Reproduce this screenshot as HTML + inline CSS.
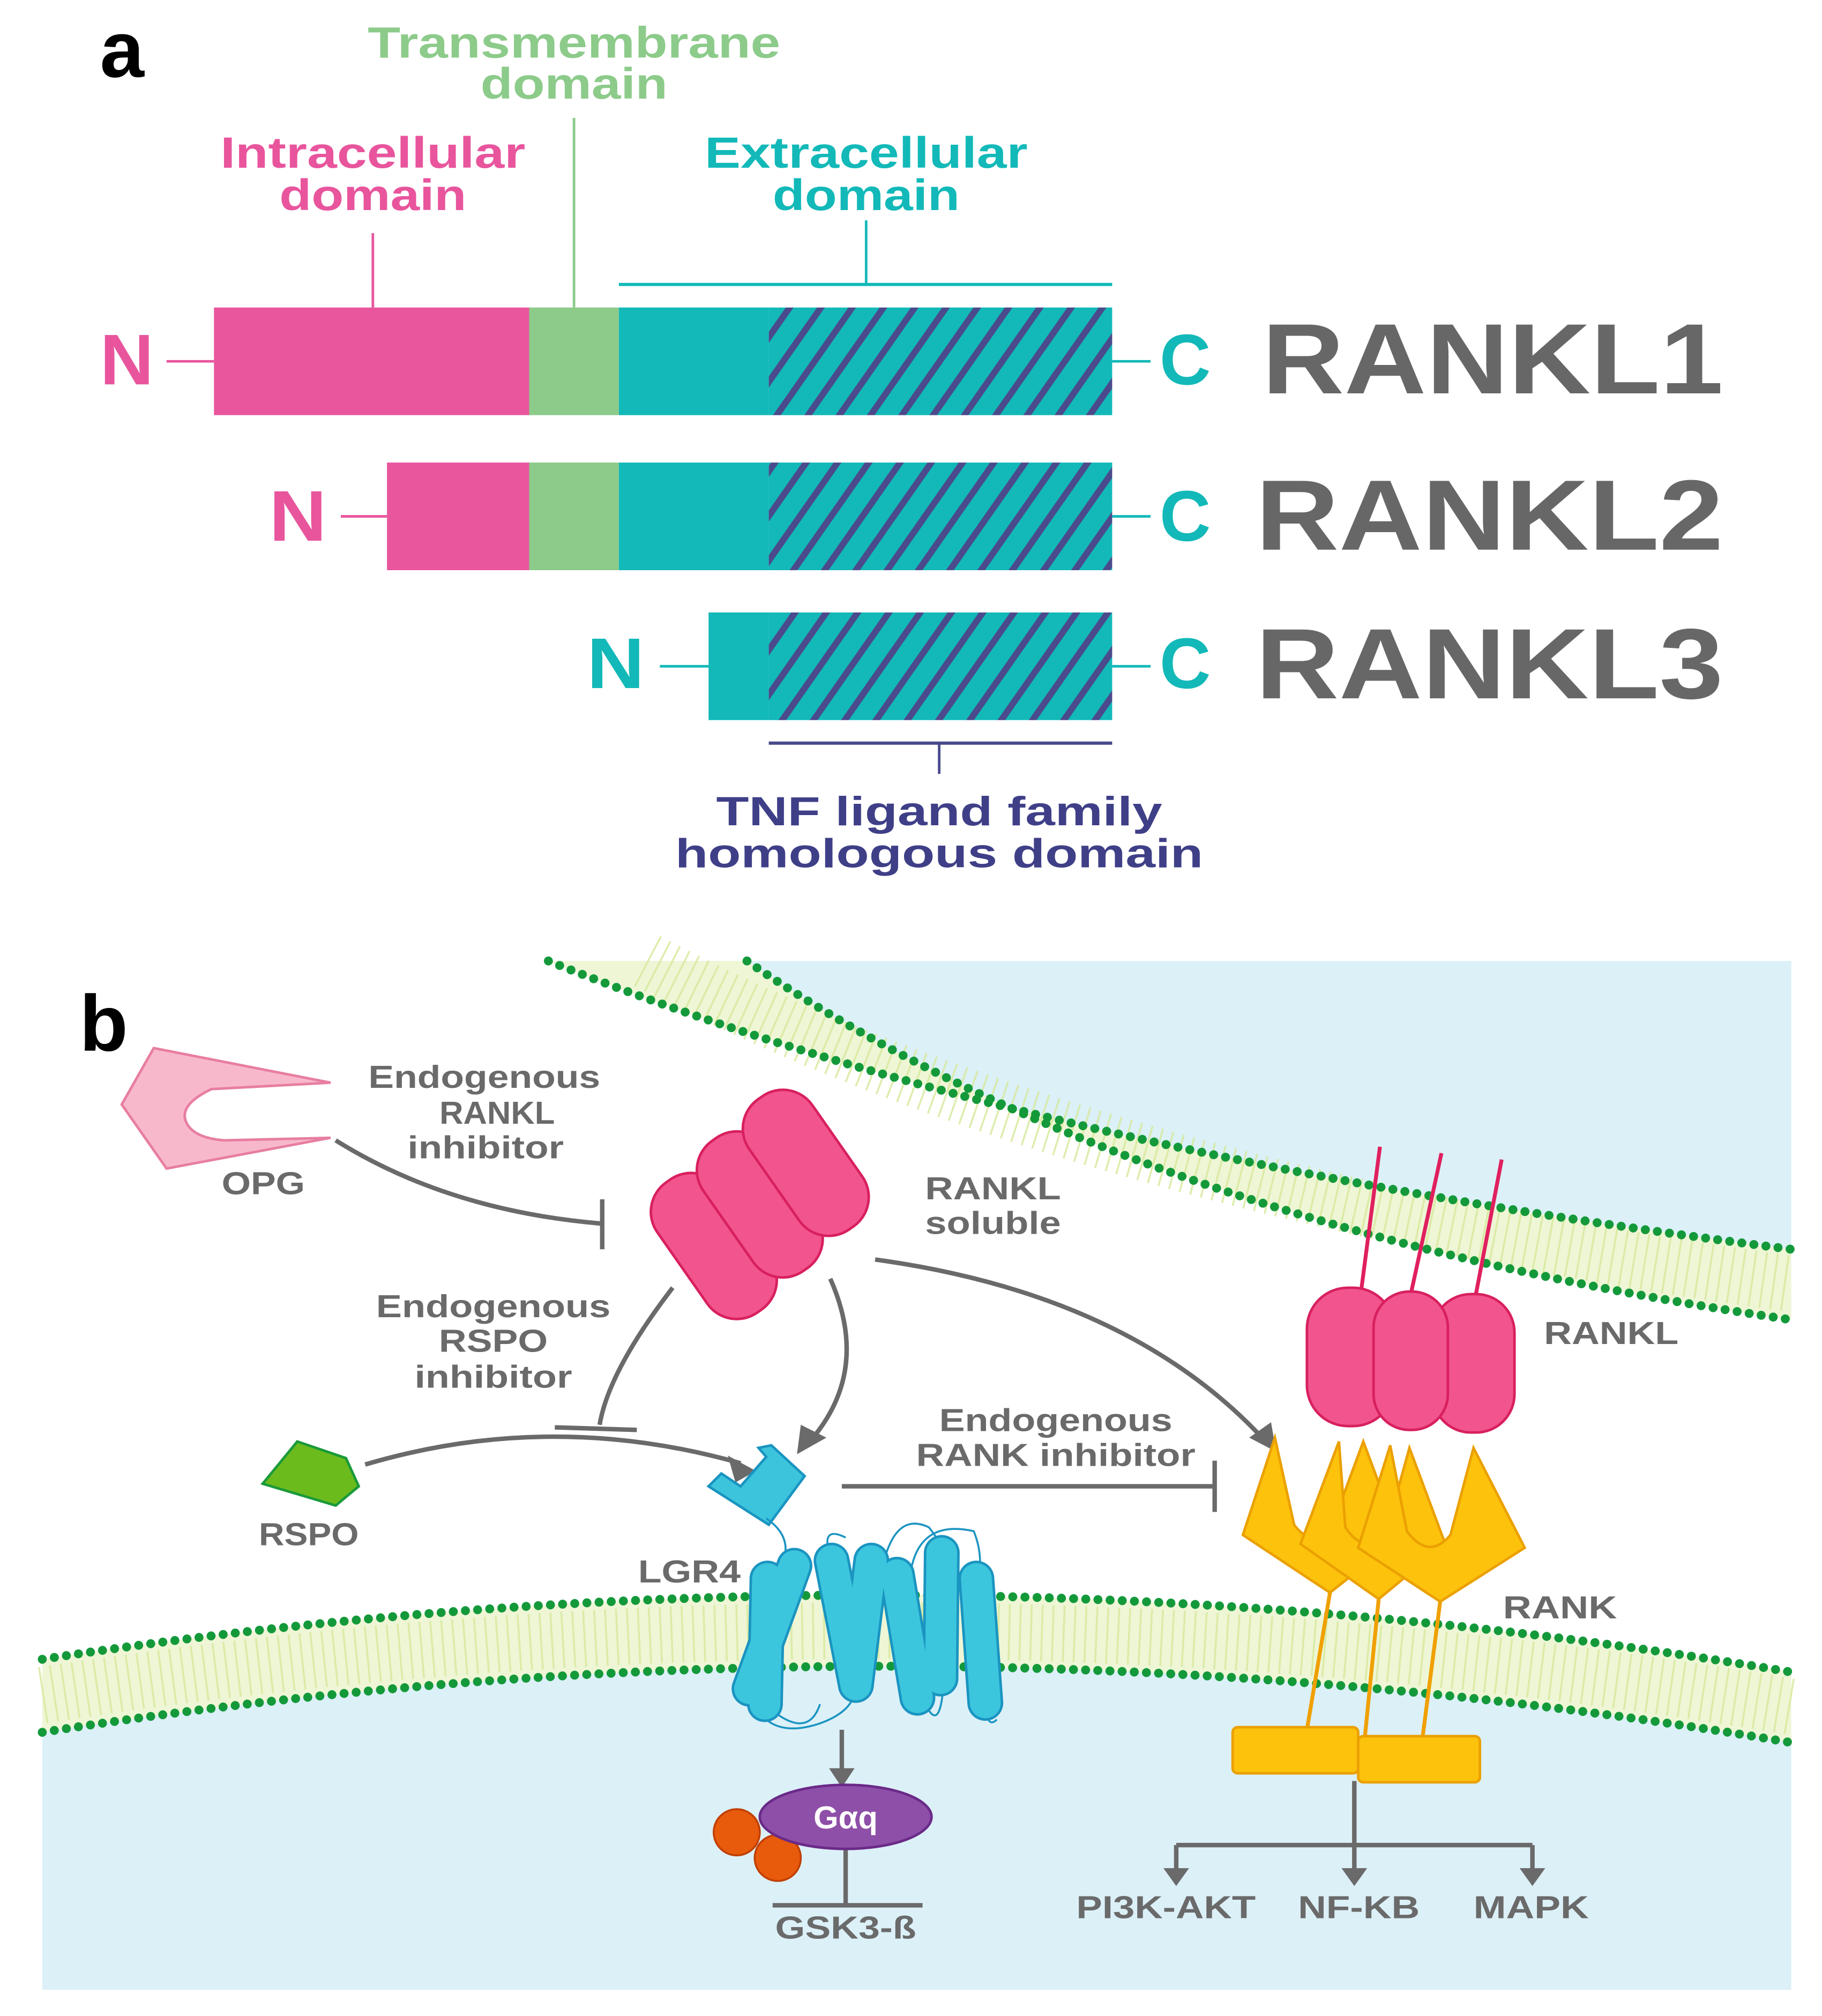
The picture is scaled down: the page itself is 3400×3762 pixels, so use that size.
<!DOCTYPE html>
<html><head><meta charset="utf-8"><style>
html,body{margin:0;padding:0;background:#fff;}
svg{display:block;}
text{font-family:"Liberation Sans",Arial,sans-serif;font-weight:bold;}
</style></head><body>
<svg width="3400" height="3762" viewBox="0 0 1422 1573.4" preserveAspectRatio="none" xmlns="http://www.w3.org/2000/svg">
<defs>
<pattern id="hatch" width="20" height="20" patternUnits="userSpaceOnUse" patternTransform="rotate(35)">
<rect width="20" height="20" fill="#12b9b8"/>
<rect x="0" y="0" width="5" height="20" fill="#4a4a8c"/>
</pattern>
</defs>
<rect width="1422" height="1574" fill="#fff"/>
<!-- Panel a -->
<text x="78" y="60" font-size="62" fill="#000">a</text>
<g fill="#8ccb8a" font-size="34" text-anchor="middle">
<text x="448" y="45" textLength="322" lengthAdjust="spacingAndGlyphs">Transmembrane</text>
<text x="448" y="77" textLength="146" lengthAdjust="spacingAndGlyphs">domain</text>
</g>
<g fill="#e8559d" font-size="34" text-anchor="middle">
<text x="291" y="131" textLength="238" lengthAdjust="spacingAndGlyphs">Intracellular</text>
<text x="291" y="164" textLength="146" lengthAdjust="spacingAndGlyphs">domain</text>
</g>
<g fill="#12b9b8" font-size="34" text-anchor="middle">
<text x="676" y="131" textLength="252" lengthAdjust="spacingAndGlyphs">Extracellular</text>
<text x="676" y="164" textLength="146" lengthAdjust="spacingAndGlyphs">domain</text>
</g>
<line x1="291" y1="182" x2="291" y2="240" stroke="#e8559d" stroke-width="2"/>
<line x1="448" y1="92" x2="448" y2="240" stroke="#8ccb8a" stroke-width="2"/>
<line x1="676" y1="172" x2="676" y2="222" stroke="#12b9b8" stroke-width="2"/>
<line x1="483" y1="222" x2="868" y2="222" stroke="#12b9b8" stroke-width="2.5"/>
<!-- RANKL1 -->
<rect x="167" y="240" width="246" height="84" fill="#e9569e"/>
<rect x="413" y="240" width="70" height="84" fill="#8ccb8a"/>
<rect x="483" y="240" width="117" height="84" fill="#12b9b8"/>
<rect x="600" y="240" width="268" height="84" fill="url(#hatch)"/>
<line x1="130" y1="282" x2="167" y2="282" stroke="#e8559d" stroke-width="2"/>
<line x1="868" y1="282" x2="898" y2="282" stroke="#12b9b8" stroke-width="2"/>
<text x="78" y="300" font-size="56" fill="#e8559d" textLength="42" lengthAdjust="spacingAndGlyphs">N</text>
<text x="905" y="300" font-size="56" fill="#12b9b8" textLength="40" lengthAdjust="spacingAndGlyphs">C</text>
<text x="985" y="307" font-size="78" fill="#676767" textLength="360" lengthAdjust="spacingAndGlyphs">RANKL1</text>
<!-- RANKL2 -->
<rect x="302" y="361" width="111" height="84" fill="#e9569e"/>
<rect x="413" y="361" width="70" height="84" fill="#8ccb8a"/>
<rect x="483" y="361" width="117" height="84" fill="#12b9b8"/>
<rect x="600" y="361" width="268" height="84" fill="url(#hatch)"/>
<line x1="266" y1="403" x2="302" y2="403" stroke="#e8559d" stroke-width="2"/>
<line x1="868" y1="403" x2="898" y2="403" stroke="#12b9b8" stroke-width="2"/>
<text x="210" y="422" font-size="56" fill="#e8559d" textLength="45" lengthAdjust="spacingAndGlyphs">N</text>
<text x="905" y="422" font-size="56" fill="#12b9b8" textLength="40" lengthAdjust="spacingAndGlyphs">C</text>
<text x="980" y="429" font-size="78" fill="#676767" textLength="365" lengthAdjust="spacingAndGlyphs">RANKL2</text>
<!-- RANKL3 -->
<rect x="553" y="478" width="47" height="84" fill="#12b9b8"/>
<rect x="600" y="478" width="268" height="84" fill="url(#hatch)"/>
<line x1="515" y1="520" x2="553" y2="520" stroke="#12b9b8" stroke-width="2"/>
<line x1="868" y1="520" x2="898" y2="520" stroke="#12b9b8" stroke-width="2"/>
<text x="458" y="537" font-size="56" fill="#12b9b8" textLength="45" lengthAdjust="spacingAndGlyphs">N</text>
<text x="905" y="537" font-size="56" fill="#12b9b8" textLength="40" lengthAdjust="spacingAndGlyphs">C</text>
<text x="980" y="545" font-size="78" fill="#676767" textLength="365" lengthAdjust="spacingAndGlyphs">RANKL3</text>
<line x1="600" y1="580" x2="868" y2="580" stroke="#4a4a8c" stroke-width="2.5"/>
<line x1="733" y1="580" x2="733" y2="604" stroke="#4a4a8c" stroke-width="2"/>
<g fill="#3f3f88" font-size="32" text-anchor="middle">
<text x="733" y="644" textLength="348" lengthAdjust="spacingAndGlyphs">TNF ligand family</text>
<text x="733" y="677" textLength="412" lengthAdjust="spacingAndGlyphs">homologous domain</text>
</g>

<!-- Panel b background -->
<rect x="33" y="750" width="1365" height="803" fill="#dcf0f8"/>
<path d="M33,750 L428,750 Q800,900 1398,975 L1398,1305 Q715,1190 33,1295 Z" fill="#fff"/>
<!-- upper membrane -->
<path d="M428,750 Q800,900 1398,975 L1398,1030 Q880,955 583,750 Z" fill="#eef6d6"/>
<path d="M505,750 Q840,925 1398,1002" fill="none" stroke="#d6e89a" stroke-width="44" stroke-dasharray="1.5 7" opacity="0.8"/>
<path d="M428,750 Q800,900 1398,975" fill="none" stroke="#14993a" stroke-width="7" stroke-linecap="round" stroke-dasharray="0 9.5"/>
<path d="M583,750 Q880,955 1398,1030" fill="none" stroke="#14993a" stroke-width="7" stroke-linecap="round" stroke-dasharray="0 9.5"/>
<!-- lower membrane -->
<path d="M33,1295 Q715,1190 1398,1305 L1398,1360 Q715,1245 33,1352 Z" fill="#eef6d6"/>
<path d="M33,1323 Q715,1218 1398,1332" fill="none" stroke="#d6e89a" stroke-width="44" stroke-dasharray="1.5 7" opacity="0.8"/>
<path d="M33,1295 Q715,1190 1398,1305" fill="none" stroke="#14993a" stroke-width="7" stroke-linecap="round" stroke-dasharray="0 9.5"/>
<path d="M33,1352 Q715,1245 1398,1360" fill="none" stroke="#14993a" stroke-width="7" stroke-linecap="round" stroke-dasharray="0 9.5"/>

<text x="62" y="820" font-size="62" fill="#000">b</text>

<!-- OPG -->
<path d="M95,862 L120,818 L258,845 L165,850 Q140,862 145,875 Q150,888 175,890 L258,888 L130,912 Z" fill="#f8b8cc" stroke="#e77ea0" stroke-width="2"/>
<g fill="#6a6a6a" font-size="25">
<text x="173" y="932" textLength="65" lengthAdjust="spacingAndGlyphs">OPG</text>
<g text-anchor="middle">
<text x="378" y="849" textLength="181" lengthAdjust="spacingAndGlyphs">Endogenous</text>
<text x="388" y="877" textLength="90" lengthAdjust="spacingAndGlyphs">RANKL</text>
<text x="379" y="904" textLength="122" lengthAdjust="spacingAndGlyphs">inhibitor</text>
<text x="385" y="1028" textLength="183" lengthAdjust="spacingAndGlyphs">Endogenous</text>
<text x="385" y="1055" textLength="85" lengthAdjust="spacingAndGlyphs">RSPO</text>
<text x="385" y="1083" textLength="123" lengthAdjust="spacingAndGlyphs">inhibitor</text>
<text x="775" y="936" textLength="106" lengthAdjust="spacingAndGlyphs">RANKL</text>
<text x="775" y="963" textLength="106" lengthAdjust="spacingAndGlyphs">soluble</text>
<text x="824" y="1117" textLength="182" lengthAdjust="spacingAndGlyphs">Endogenous</text>
<text x="824" y="1144" textLength="218" lengthAdjust="spacingAndGlyphs">RANK inhibitor</text>
<text x="660" y="1513" textLength="110" lengthAdjust="spacingAndGlyphs">GSK3-ß</text>
</g>
<text x="202" y="1206" textLength="78" lengthAdjust="spacingAndGlyphs">RSPO</text>
<text x="498" y="1235" textLength="80" lengthAdjust="spacingAndGlyphs">LGR4</text>
<text x="1205" y="1049" textLength="105" lengthAdjust="spacingAndGlyphs">RANKL</text>
<text x="1173" y="1263" textLength="89" lengthAdjust="spacingAndGlyphs">RANK</text>
<text x="840" y="1497" textLength="140" lengthAdjust="spacingAndGlyphs">PI3K-AKT</text>
<text x="1013" y="1497" textLength="95" lengthAdjust="spacingAndGlyphs">NF-KB</text>
<text x="1150" y="1497" textLength="90" lengthAdjust="spacingAndGlyphs">MAPK</text>
</g>

<!-- connectors -->
<g fill="none" stroke="#6a6a6a" stroke-width="3.5">
<path d="M262,890 Q350,945 470,955"/>
<line x1="470" y1="936" x2="470" y2="975"/>
<path d="M525,1005 Q475,1070 468,1112"/>
<line x1="433" y1="1114" x2="497" y2="1116"/>
<path d="M648,998 Q680,1070 632,1125"/>
<path d="M285,1143 Q430,1100 578,1142"/>
<path d="M683,983 Q880,1010 985,1122"/>
<line x1="657" y1="1160" x2="948" y2="1160"/>
<line x1="948" y1="1140" x2="948" y2="1180"/>
<line x1="657" y1="1350" x2="657" y2="1384"/>
<line x1="660" y1="1443" x2="660" y2="1487"/>
<line x1="603" y1="1487" x2="720" y2="1487"/>
<line x1="1057" y1="1390" x2="1057" y2="1440"/>
<line x1="918" y1="1440" x2="1196" y2="1440"/>
<line x1="918" y1="1440" x2="918" y2="1462"/>
<line x1="1057" y1="1440" x2="1057" y2="1462"/>
<line x1="1196" y1="1440" x2="1196" y2="1462"/>
</g>
<g fill="#6a6a6a">
<polygon points="622,1135 625,1112 645,1122"/>
<polygon points="590,1148 568,1136 574,1157"/>
<polygon points="996,1133 975,1122 992,1110"/>
<polygon points="657,1395 647,1380 667,1380"/>
<polygon points="918,1472 908,1458 928,1458"/>
<polygon points="1057,1472 1047,1458 1067,1458"/>
<polygon points="1196,1472 1186,1458 1206,1458"/>
</g>

<!-- RANKL soluble -->
<g transform="translate(593,940) rotate(-35)" fill="#f2548e" stroke="#d8205e" stroke-width="2">
<rect x="-30" y="-62" width="60" height="124" rx="28" transform="translate(-48,6)"/>
<rect x="-30" y="-62" width="60" height="124" rx="28" transform="translate(0,0)"/>
<rect x="-30" y="-62" width="60" height="124" rx="28" transform="translate(48,-6)"/>
</g>

<!-- RSPO -->
<path d="M205,1158 L232,1125 L270,1138 L280,1160 L262,1175 Z" fill="#6cbb1c" stroke="#1a9a3a" stroke-width="2"/>
<!-- LGR4 ectodomain -->
<path d="M553,1160 L563,1150 L578,1160 L598,1137 L592,1130 L602,1128 L628,1152 L600,1190 Z" fill="#3cc4dc" stroke="#1a94c0" stroke-width="2"/>
<path d="M598,1185 Q620,1200 610,1222" fill="none" stroke="#1a94c0" stroke-width="1.5"/>
<!-- LGR4 loops -->
<g fill="none" stroke="#1a94c0" stroke-width="1.5">
<path d="M648,1215 Q640,1190 660,1200"/>
<path d="M690,1218 Q700,1180 725,1192 Q735,1205 737,1212"/>
<path d="M710,1232 Q715,1185 760,1195 Q768,1215 763,1235"/>
<path d="M585,1318 Q595,1360 640,1345 Q668,1335 668,1315"/>
<path d="M597,1330 Q630,1360 640,1330"/>
<path d="M725,1335 Q735,1350 737,1305"/>
<path d="M769,1329 Q770,1350 778,1342"/>
</g>
<!-- LGR4 cylinders -->
<g stroke-linecap="round">
<g stroke="#1a94c0" stroke-width="28">
<line x1="620" y1="1222" x2="585" y2="1318"/>
<line x1="649" y1="1218" x2="668" y2="1315"/>
<line x1="680" y1="1218" x2="668" y2="1315"/>
<line x1="599" y1="1232" x2="597" y2="1330"/>
<line x1="700" y1="1229" x2="716" y2="1325"/>
<line x1="735" y1="1212" x2="734" y2="1310"/>
<line x1="762" y1="1232" x2="769" y2="1329"/>
</g>
<g stroke="#3cc6de" stroke-width="24">
<line x1="620" y1="1222" x2="585" y2="1318"/>
<line x1="649" y1="1218" x2="668" y2="1315"/>
<line x1="680" y1="1218" x2="668" y2="1315"/>
<line x1="599" y1="1232" x2="597" y2="1330"/>
<line x1="700" y1="1229" x2="716" y2="1325"/>
<line x1="735" y1="1212" x2="734" y2="1310"/>
<line x1="762" y1="1232" x2="769" y2="1329"/>
</g>
</g>

<!-- Gaq -->
<circle cx="575" cy="1430" r="18" fill="#e85a0c" stroke="#c04000" stroke-width="1.5"/>
<circle cx="607" cy="1450" r="18" fill="#e85a0c" stroke="#c04000" stroke-width="1.5"/>
<ellipse cx="660" cy="1418" rx="67" ry="25" fill="#8e4fa8" stroke="#6a2a88" stroke-width="2"/>
<text x="660" y="1427" font-size="25" fill="#fff" text-anchor="middle">Gαq</text>

<!-- membrane RANKL -->
<g stroke="#e0205e" stroke-width="3">
<line x1="1077" y1="895" x2="1062" y2="1010"/>
<line x1="1125" y1="900" x2="1100" y2="1015"/>
<line x1="1172" y1="905" x2="1150" y2="1020"/>
</g>
<g fill="#f2548e" stroke="#d8205e" stroke-width="2">
<rect x="1020" y="1005" width="68" height="108" rx="32"/>
<rect x="1118" y="1010" width="64" height="108" rx="30"/>
<rect x="1072" y="1008" width="58" height="108" rx="28"/>
</g>

<!-- RANK -->
<g stroke="#f0a000" stroke-width="3">
<line x1="1038" y1="1243" x2="1020" y2="1350"/>
<line x1="1076" y1="1248" x2="1065" y2="1358"/>
<line x1="1124" y1="1250" x2="1110" y2="1358"/>
</g>
<g fill="#fcc20c" stroke="#eba000" stroke-width="2">
<path d="M1038,1243 L970,1198 L995,1122 L1010,1190 Q1025,1210 1040,1190 L1064,1125 L1092,1200 Z"/>
<path d="M1076,1248 L1015,1205 L1045,1125 L1050,1192 Q1065,1215 1082,1195 L1100,1130 L1128,1205 Z"/>
<path d="M1124,1250 L1060,1208 L1085,1128 L1098,1195 Q1115,1218 1132,1198 L1150,1130 L1190,1208 Z"/>
<rect x="962" y="1348" width="98" height="36" rx="4"/>
<rect x="1060" y="1355" width="95" height="36" rx="4"/>
</g>
</svg>
</body></html>
